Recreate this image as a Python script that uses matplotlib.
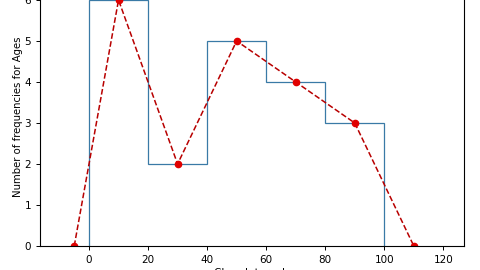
import numpy as np
import matplotlib.pyplot as plt

# class intervals and frequencies
bin_edges = [0, 20, 40, 60, 80, 100]
frequencies = [6, 2, 5, 4, 3]

# frequency polygon points (class mid-points, closed at both ends)
poly_x = [-5, 10, 30, 50, 70, 90, 110]
poly_y = [0, 6, 2, 5, 4, 3, 0]

fig = plt.figure(figsize=(4.8, 2.7), dpi=100)
# axes top runs past the figure edge, as in the cropped reference
ax = fig.add_axes([0.0833, 0.0889, 0.8834, 0.9567])

ax.stairs(frequencies, bin_edges, color='#3a7aa6', linewidth=0.9)
ax.plot(poly_x, poly_y, linestyle='--', color='#b80000', linewidth=1.1,
        marker='o', markersize=4.5, markerfacecolor='#e00000',
        markeredgecolor='#e00000')

ax.set_xlim(-16.6, 127)
ax.set_ylim(0, 6.3)
ax.set_xticks([0, 20, 40, 60, 80, 100, 120])
ax.set_yticks([0, 1, 2, 3, 4, 5, 6])
ax.tick_params(labelsize=7.5, length=3, width=0.7)
for s in ax.spines.values():
    s.set_linewidth(0.8)

ax.set_xlabel("Class Intervals", fontsize=7.5, labelpad=2)
ax.set_ylabel("Number of frequencies for Ages", fontsize=7.3, labelpad=1)

fig.savefig("out.png", dpi=100)
